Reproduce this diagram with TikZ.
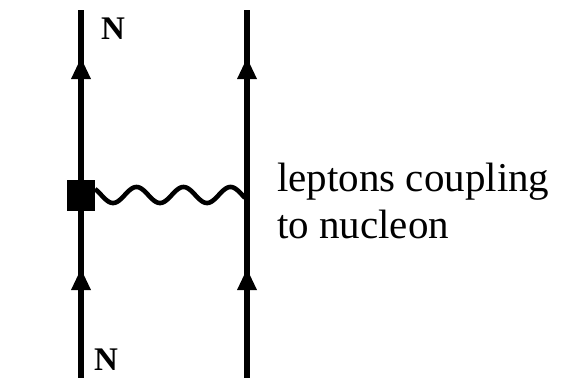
\documentclass[tikz,border=0pt]{standalone}
\usepackage{fontspec}
\setmainfont{Liberation Serif}
\begin{document}
\begin{tikzpicture}[x=1pt,y=-1pt,
  fermion/.style={line width=6pt,black},
  wave/.style={line width=4.6pt,black,line join=round},
  vertexbox/.style={fill=black,minimum width=28pt,minimum height=31pt,inner sep=0pt,draw=none},
  lbl/.style={font=\fontsize{33}{36}\selectfont\bfseries,inner sep=0pt},
  txt/.style={font=\fontsize{41}{47}\selectfont,inner sep=0pt,anchor=base west}]
\useasboundingbox (0,0) rectangle (563,378);
\fill[white] (0,0) rectangle (563,378);
% end points of fermion lines
\coordinate (Lt) at (81,10);
\coordinate (Lb) at (81,380);
\coordinate (Rt) at (247,10);
\coordinate (Rb) at (247,380);
\draw[fermion] (Lb) -- (Lt);
\draw[fermion] (Rb) -- (Rt);
% arrowheads
\foreach \xx/\yy in {81/58,81/269,247/58,247/269}{
  \fill (\xx,\yy) -- (\xx+10,\yy+21) -- (\xx-10,\yy+21) -- cycle;
}
% vertex
\node[vertexbox] (V) at (81,195) {};
\coordinate (W) at (247,195);
% wavy line
\draw[wave] plot[domain=95:245,samples=120] (\x,{195+8*cos(7.66*(\x-113))});
% labels
\node[lbl] (N1) at (113,29) {N};
\node[lbl] (N2) at (106,360) {N};
\node[txt] (T1) at (277,191) {leptons coupling};
\node[txt] (T2) at (277,238) {to nucleon};
\end{tikzpicture}
\end{document}
